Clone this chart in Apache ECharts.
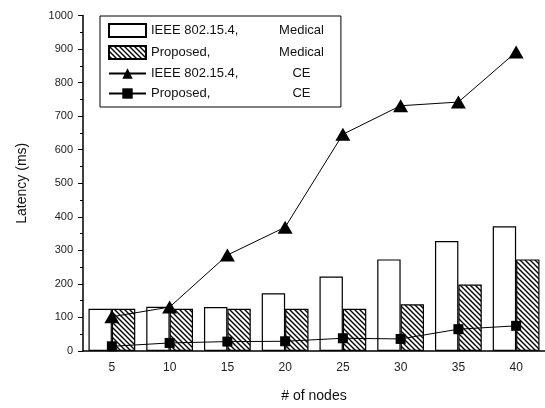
<!DOCTYPE html>
<html><head><meta charset="utf-8">
<script src="https://cdn.jsdelivr.net/npm/echarts@6/dist/echarts.min.js"></script>
<style>html,body{margin:0;padding:0;background:#fff}#c{width:545px;height:408px}</style>
</head><body><div id="c"></div>
<script>
var categories = ['5','10','15','20','25','30','35','40'];
var ieeeMedical = [126, 132, 131, 172, 222, 273, 328, 372];
var proposedMedical = [126, 126, 126, 126, 126, 139, 198, 273];
var ieeeCE = [102, 131, 286, 369, 646, 731, 742, 891];
var proposedCE = [14, 24, 28, 29, 38, 36, 65, 75];
var yTicks = [0,100,200,300,400,500,600,700,800,900,1000];

function hatch(){
  var c = document.createElement('canvas');
  c.width = 5; c.height = 5;
  var g = c.getContext('2d');
  g.fillStyle = '#fff'; g.fillRect(0,0,5,5);
  g.strokeStyle = '#000'; g.lineWidth = 1.4;
  g.beginPath();
  g.moveTo(-1,-1); g.lineTo(6,6);
  g.moveTo(-1,4); g.lineTo(1,6);
  g.moveTo(4,-1); g.lineTo(6,1);
  g.stroke();
  return c;
}
var FONT = 'Liberation Sans';
var chart = echarts.init(document.getElementById('c'), null, {renderer:'canvas'});
var rich = {
  a:{width:124, fontFamily:FONT, fontSize:13, color:'#111'},
  b:{width:53, align:'center', fontFamily:FONT, fontSize:13, color:'#111'}
};
var labels = {
  'IEEE 802.15.4, Medical':'{a|IEEE 802.15.4,}{b|Medical}',
  'Proposed, Medical':'{a|Proposed,}{b|Medical}',
  'IEEE 802.15.4, CE':'{a|IEEE 802.15.4,}{b|CE}',
  'Proposed, CE':'{a|Proposed,}{b|CE}'
};
chart.setOption({
  animation:false,
  backgroundColor:'#fff',
  grid:{left:83, top:15.5, width:464, bottom:53},
  legend:{
    orient:'vertical', left:100, top:16,
    padding:[7,17,7,8], itemGap:7, itemWidth:37, itemHeight:13,
    borderColor:'#000', borderWidth:1, borderRadius:0,
    formatter:function(n){return labels[n];},
    textStyle:{rich:rich},
    data:[{name:'IEEE 802.15.4, Medical', icon:'rect'},{name:'Proposed, Medical', icon:'rect'},'IEEE 802.15.4, CE','Proposed, CE']
  },
  xAxis:[{
    type:'category', data:categories,
    name:'# of nodes', nameLocation:'middle', nameGap:38,
    nameTextStyle:{fontFamily:FONT, fontSize:14, color:'#111'},
    axisLine:{lineStyle:{color:'#000', width:1.5}},
    axisTick:{alignWithLabel:true, length:8, lineStyle:{color:'#000'}},
    axisLabel:{fontFamily:FONT, fontSize:12, color:'#222', margin:11}
  },{
    type:'category', data:categories, position:'bottom',
    axisLine:{show:false},
    axisTick:{length:4, lineStyle:{color:'#000'}},
    axisLabel:{show:false}
  }],
  yAxis:{
    type:'value', min:0, max:1000, interval:100,
    name:'Latency (ms)', nameLocation:'middle', nameGap:54,
    nameTextStyle:{fontFamily:FONT, fontSize:14, color:'#111'},
    axisLine:{show:true, lineStyle:{color:'#000', width:1.5}},
    axisTick:{show:true, length:5, lineStyle:{color:'#000'}},
    minorTick:{show:true, splitNumber:2, length:3, lineStyle:{color:'#000'}},
    splitLine:{show:false},
    axisLabel:{fontFamily:FONT, fontSize:11, color:'#222', margin:10,
      formatter:function(v){return yTicks.indexOf(v)>=0?String(v):'';}}
  },
  series:[
    {name:'IEEE 802.15.4, Medical', type:'bar', data:ieeeMedical, barGap:'0%', barCategoryGap:'19%',
      itemStyle:{color:'#fff', borderColor:'#000', borderWidth:1.2}},
    {name:'Proposed, Medical', type:'bar', data:proposedMedical,
      itemStyle:{color:{image:hatch(), repeat:'repeat'}, borderColor:'#000', borderWidth:1.2}},
    {name:'IEEE 802.15.4, CE', type:'line', data:ieeeCE, symbol:'triangle', symbolSize:[15,13],
      lineStyle:{color:'#000', width:1}, itemStyle:{color:'#000'}, z:5},
    {name:'Proposed, CE', type:'line', data:proposedCE, symbol:'rect', symbolSize:10,
      lineStyle:{color:'#000', width:1}, itemStyle:{color:'#000'}, z:5}
  ]
});
</script></body></html>
